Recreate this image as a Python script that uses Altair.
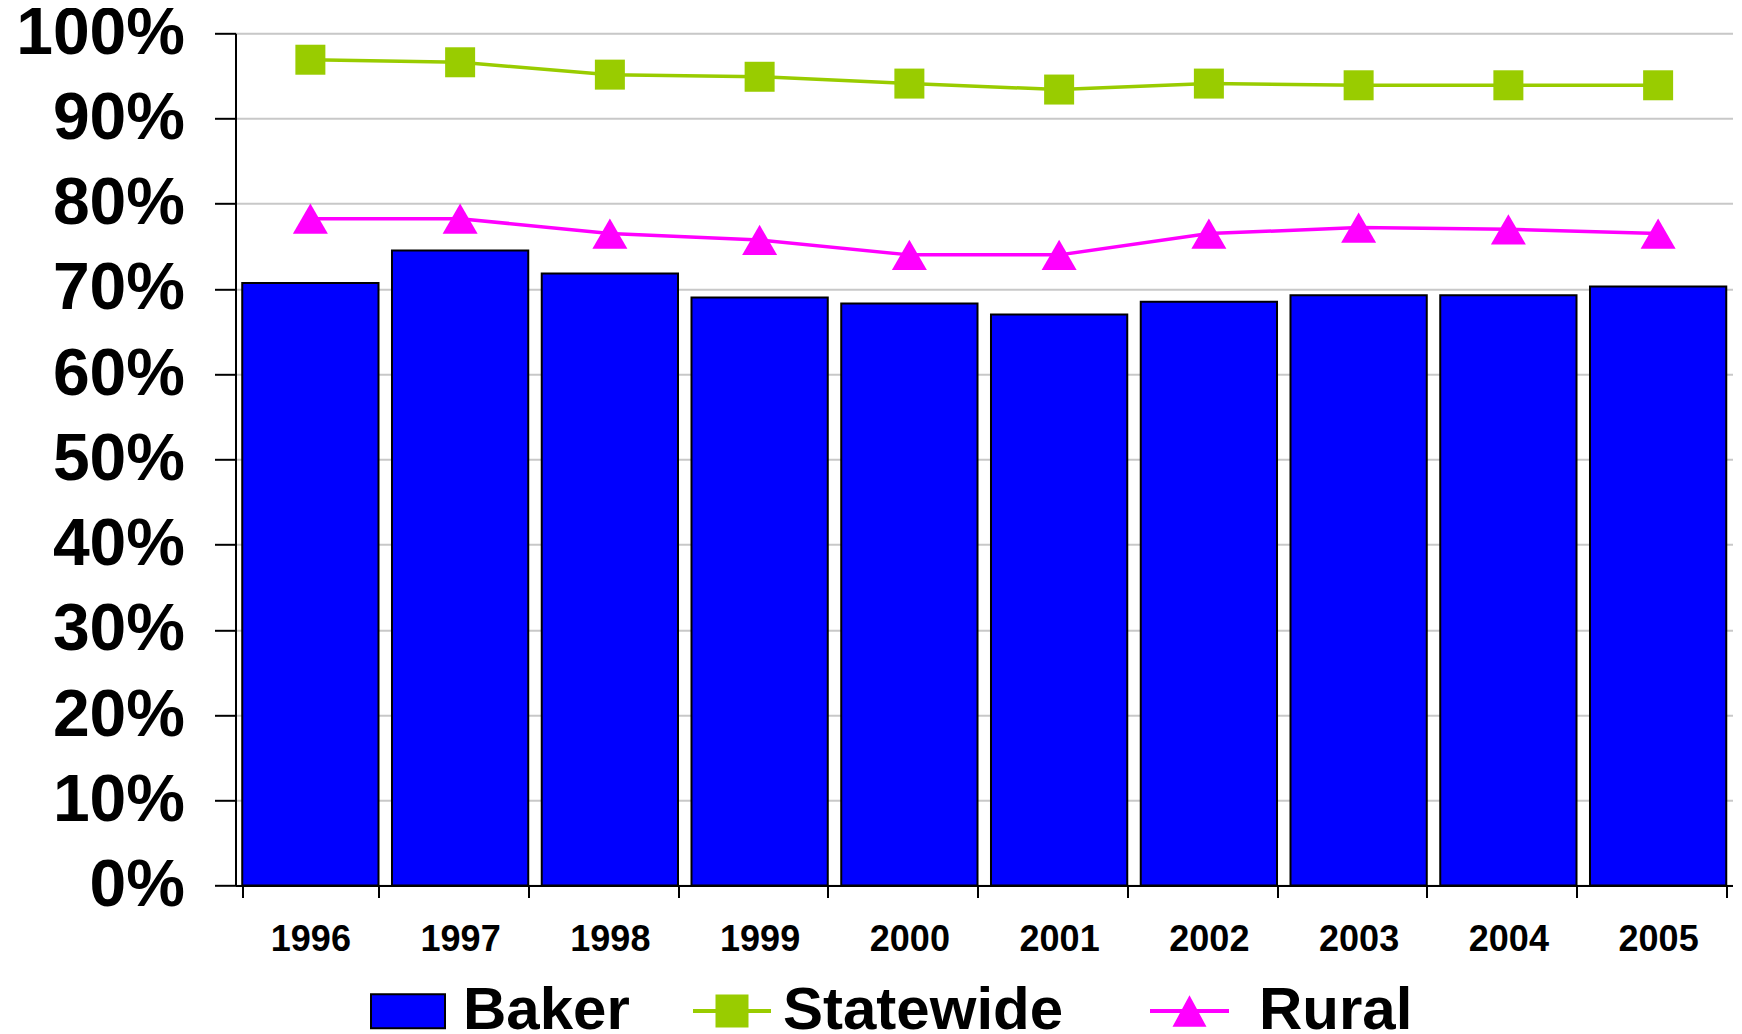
import altair as alt
import pandas as pd

years = ["1996", "1997", "1998", "1999", "2000", "2001", "2002", "2003", "2004", "2005"]
baker = [70.7, 74.5, 71.8, 69.0, 68.3, 67.0, 68.5, 69.25, 69.25, 70.3]
statewide = [96.9, 96.6, 95.15, 94.9, 94.1, 93.4, 94.1, 93.9, 93.9, 93.9]
rural = [78.25, 78.25, 76.5, 75.75, 74.0, 74.0, 76.5, 77.2, 77.0, 76.5]

BLUE = "#0000FF"
GREEN = "#99CC00"
MAGENTA = "#FF00FF"
FONT = "Liberation Sans"

df = pd.DataFrame({"year": years, "Baker": baker, "Statewide": statewide, "Rural": rural})

PLOT_W = 1497.5
PLOT_H = 852.2

x_enc = alt.X(
    "year:N",
    title=None,
    scale=alt.Scale(paddingInner=0.09, paddingOuter=0.045),
    axis=alt.Axis(
        labelAngle=0, labelFont=FONT, labelFontWeight="bold", labelFontSize=36,
        labelColor="black", tickColor="black", tickWidth=2, tickSize=12,
        domainColor="black", domainWidth=2, tickBand="extent", labelPadding=25,
        grid=False,
    ),
)


def y_enc(field):
    return alt.Y(
        f"{field}:Q",
        title=None,
        scale=alt.Scale(domain=[0, 100], nice=False),
        axis=alt.Axis(
            values=list(range(0, 101, 10)), labelExpr="datum.value + '%'",
            labelFont=FONT, labelFontWeight="bold", labelFontSize=66, labelColor="black",
            tickColor="black", tickWidth=2, tickSize=21, labelPadding=30,
            domainColor="black", domainWidth=2, gridColor="#C8C8C8", gridWidth=2,
        ),
    )


def legend(symbol, size, x, y, offset, stroke=None):
    kw = dict(
        title=None, orient="none", legendX=x, legendY=y, padding=0,
        symbolType=symbol, symbolSize=size, symbolOpacity=1,
        labelFont=FONT, labelFontWeight="bold", labelFontSize=60, labelColor="black",
        labelLimit=1000, labelOffset=offset,
    )
    if stroke:
        kw.update(symbolStrokeColor=stroke, symbolStrokeWidth=2)
    else:
        kw.update(symbolStrokeWidth=0)
    return alt.Legend(**kw)


baker_sym = "M-1,-0.46H1V0.46H-1Z"
state_sym = "M-1,-0.051H-0.423V-0.423H0.423V-0.051H1V0.051H0.423V0.423H-0.423V0.051H-1Z"
rural_sym = "M-1,-0.05H-0.188L0,-0.4L0.188,-0.05H1V0.05H0.242L0.43,0.4H-0.43L-0.242,0.05H-1Z"

bars = alt.Chart(df).transform_calculate(series="'Baker'").mark_bar(
    stroke="black", strokeWidth=2
).encode(
    x=x_enc,
    y=y_enc("Baker"),
    color=alt.Color("series:N", scale=alt.Scale(domain=["Baker"], range=[BLUE]),
                    legend=legend(baker_sym, 5476, 134.5, 940, 17, stroke="black")),
)

sbase = alt.Chart(df).transform_calculate(series="'Statewide'")
sline = sbase.mark_line(color=GREEN, strokeWidth=3.5).encode(x=x_enc, y=y_enc("Statewide"))
spts = sbase.mark_point(shape="square", filled=True, size=900, opacity=1).encode(
    x=x_enc, y=y_enc("Statewide"),
    color=alt.Color("series:N", scale=alt.Scale(domain=["Statewide"], range=[GREEN]),
                    legend=legend(state_sym, 6084, 457.5, 938.7, 12)),
)
state_layer = alt.layer(sline, spts)

rbase = alt.Chart(df).transform_calculate(series="'Rural'")
rline = rbase.mark_line(color=MAGENTA, strokeWidth=3.5).encode(x=x_enc, y=y_enc("Rural"))
rpts = rbase.mark_point(shape="triangle-up", filled=True, size=1225, opacity=1).encode(
    x=x_enc, y=y_enc("Rural"),
    color=alt.Color("series:N", scale=alt.Scale(domain=["Rural"], range=[MAGENTA]),
                    legend=legend(rural_sym, 6241, 914.5, 938.2, 30)),
)
rural_layer = alt.layer(rline, rpts)

chart = alt.layer(bars, state_layer, rural_layer).resolve_scale(
    color="independent"
).properties(
    width=PLOT_W, height=PLOT_H,
    autosize=alt.AutoSizeParams(type="none"),
    padding={"left": 227.5, "top": 25.3, "right": 0, "bottom": 148},
).configure_view(
    stroke="#C8C8C8", strokeWidth=2
).configure(background="white")

chart.save("out.html", embed_options={"renderer": "svg", "actions": False})
